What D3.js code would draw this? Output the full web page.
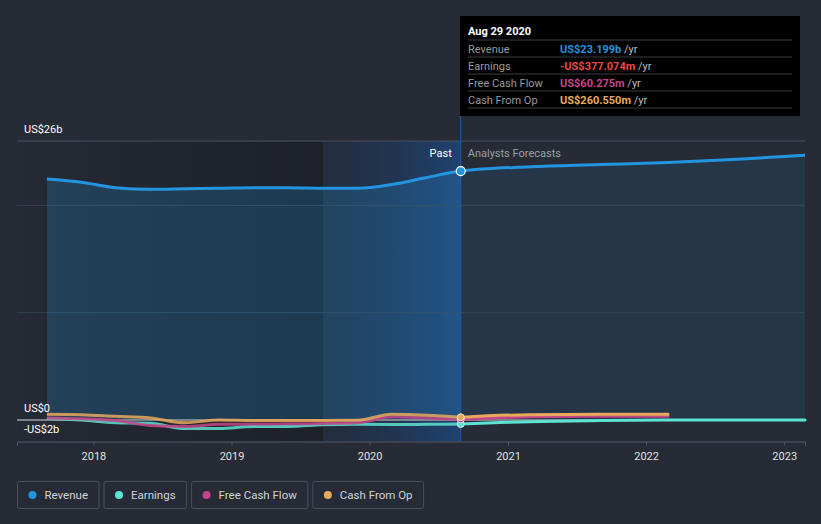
<!DOCTYPE html>
<html>
<head>
<meta charset="utf-8">
<script src="https://cdn.jsdelivr.net/npm/d3@7"></script>
<style>
  body { margin: 0; background: #262b36; }
  svg { display: block; font-family: Roboto, "Open Sans", sans-serif; }
</style>
</head>
<body>
<script>
var pastDates = ["2017-08-31", "2017-11-30", "2018-02-28", "2018-05-31", "2018-08-31", "2018-11-30",
    "2019-02-28", "2019-05-31", "2019-08-31", "2019-11-30", "2020-02-29", "2020-05-31", "2020-08-29"];
var revenuePast = [22.45, 22.15, 21.65, 21.5, 21.55, 21.6, 21.65, 21.65, 21.6, 21.6, 21.95, 22.6, 23.2];
var earningsPast = [0.15, 0.0, -0.25, -0.3, -0.8, -0.8, -0.6, -0.6, -0.45, -0.4, -0.42, -0.4, -0.377];
var fcfPast = [0.2, 0.12, -0.05, -0.5, -0.6, -0.4, -0.38, -0.35, -0.32, -0.25, 0.3, 0.2, 0.06];
var cfoPast = [0.55, 0.5, 0.35, 0.2, -0.25, 0.0, -0.05, -0.05, -0.05, -0.02, 0.55, 0.45, 0.26];

var fcDates = ["2020-08-29", "2021-02-28", "2021-08-31", "2022-02-28", "2022-08-31", "2023-02-25"];
var revenueFc = [23.2, 23.6, 23.8, 24.0, 24.3, 24.67];
var earningsFc = [-0.377, -0.15, -0.05, 0.0, 0.0, 0.0];
var fcfFc = [0.06, 0.3, 0.35, 0.35];
var cfoFc = [0.26, 0.5, 0.53, 0.53];

var yTicks = [26, 0, -2];
var yTickLabels = ["US$26b", "US$0", "-US$2b"];
var gridValues = [20, 10];
var xTickYears = [2018, 2019, 2020, 2021, 2022, 2023];

var legendNames = ["Revenue", "Earnings", "Free Cash Flow", "Cash From Op"];
var colors = ["#2394df", "#5de3d1", "#c4448a", "#e8a95c"];

var tipDate = "Aug 29 2020";
var tipValues = ["US$23.199b", "-US$377.074m", "US$60.275m", "US$260.550m"];
var tipColors = ["#2394df", "#e84a4a", "#c4448a", "#e8a95c"];

var width = 821, height = 524;
var parse = d3.timeParse("%Y-%m-%d");

var svg = d3.select("body").append("svg")
    .attr("width", width)
    .attr("height", height);

var x = d3.scaleTime()
    .domain([new Date(2017, 5, 13), new Date(2023, 1, 25)])
    .range([17, 805]);
var y = d3.scaleLinear()
    .domain([-2, 26])
    .range([441.5, 141]);

var nowDate = parse("2020-08-29");
var xNow = x(nowDate);
var xHi = x(parse("2019-08-31"));

var defs = svg.append("defs");
var g1 = defs.append("linearGradient").attr("id", "hi").attr("x1", 0).attr("x2", 1);
g1.append("stop").attr("offset", 0).attr("stop-color", "#17355c").attr("stop-opacity", 0.2);
g1.append("stop").attr("offset", 1).attr("stop-color", "#1a55a0").attr("stop-opacity", 0.55);
var g2 = defs.append("linearGradient").attr("id", "dark").attr("x1", 0).attr("x2", 1);
g2.append("stop").attr("offset", 0).attr("stop-color", "#000").attr("stop-opacity", 0.03);
g2.append("stop").attr("offset", 1).attr("stop-color", "#000").attr("stop-opacity", 0.25);

// past shading
svg.append("rect")
    .attr("x", 17).attr("y", y(26))
    .attr("width", xHi - 17).attr("height", y(-2) - y(26))
    .attr("fill", "url(#dark)");
svg.append("rect")
    .attr("x", xHi).attr("y", y(26))
    .attr("width", xNow - xHi).attr("height", y(-2) - y(26))
    .attr("fill", "url(#hi)");

// grid
svg.append("line")
    .attr("x1", 17).attr("x2", 805)
    .attr("y1", y(26)).attr("y2", y(26))
    .attr("stroke", "#4a505c").attr("stroke-width", 1);
svg.selectAll(".grid").data(gridValues).enter().append("line")
    .attr("x1", 17).attr("x2", 805)
    .attr("y1", function (d) { return y(d); }).attr("y2", function (d) { return y(d); })
    .attr("stroke", "#34404f").attr("stroke-width", 1);

function toPts(dates, vals) {
    return vals.map(function (v, i) { return { d: parse(dates[i]), v: v }; });
}

var line = d3.line()
    .x(function (p) { return x(p.d); })
    .y(function (p) { return y(p.v); })
    .curve(d3.curveMonotoneX);
var area = d3.area()
    .x(function (p) { return x(p.d); })
    .y0(y(0))
    .y1(function (p) { return y(p.v); })
    .curve(d3.curveMonotoneX);

var revAll = toPts(pastDates, revenuePast).concat(toPts(fcDates, revenueFc).slice(1));
svg.append("path")
    .attr("d", area(toPts(pastDates, revenuePast)))
    .attr("fill", "#2394df").attr("fill-opacity", 0.22);
svg.append("path")
    .attr("d", area(toPts(fcDates, revenueFc)))
    .attr("fill", "#2a5f8f").attr("fill-opacity", 0.22);

// zero line
svg.append("line")
    .attr("x1", 17).attr("x2", 805)
    .attr("y1", y(0)).attr("y2", y(0))
    .attr("stroke", "#9a9ea6").attr("stroke-width", 1.5);

// now line
svg.append("line")
    .attr("x1", xNow).attr("x2", xNow)
    .attr("y1", 116).attr("y2", y(-2))
    .attr("stroke", "#1f5fa8").attr("stroke-width", 1);

var small = [
    [earningsPast, earningsFc, 1],
    [fcfPast, fcfFc, 2],
    [cfoPast, cfoFc, 3]
];
small.forEach(function (s) {
    svg.append("path")
        .attr("d", line(toPts(pastDates, s[0])))
        .attr("fill", "none").attr("stroke", colors[s[2]])
        .attr("stroke-width", 3).attr("stroke-opacity", 0.85);
    svg.append("path")
        .attr("d", line(toPts(fcDates, s[1])))
        .attr("fill", "none").attr("stroke", colors[s[2]])
        .attr("stroke-width", 3).attr("stroke-linecap", "round");
});

svg.append("path")
    .attr("d", line(revAll))
    .attr("fill", "none").attr("stroke", colors[0]).attr("stroke-width", 3);

// markers at now
var markVals = [earningsPast, fcfPast, cfoPast];
[1, 2, 3].forEach(function (k, i) {
    var vals = markVals[i];
    svg.append("circle")
        .attr("cx", xNow).attr("cy", y(vals[vals.length - 1]))
        .attr("r", 3.5).attr("fill", colors[k])
        .attr("stroke", "#fff").attr("stroke-width", 1).attr("stroke-opacity", 0.7);
});
svg.append("circle")
    .attr("cx", xNow).attr("cy", y(revenuePast[revenuePast.length - 1]))
    .attr("r", 4.5).attr("fill", colors[0])
    .attr("stroke", "#fff").attr("stroke-width", 1.2);

// y labels
svg.selectAll(".ylab").data(yTicks).enter().append("text")
    .attr("x", 24)
    .attr("y", function (d, i) { return i === 2 ? y(d) - 9 : y(d) - 8; })
    .attr("fill", "#ffffff").attr("font-size", 11)
    .text(function (d, i) { return yTickLabels[i]; });

// x axis
var xAxis = d3.axisBottom(x)
    .tickValues(xTickYears.map(function (yr) { return new Date(yr, 0, 1); }))
    .tickFormat(d3.timeFormat("%Y"))
    .tickSize(4).tickPadding(7);
var ax = svg.append("g").attr("transform", "translate(0," + y(-2) + ")").call(xAxis);
ax.select(".domain").attr("stroke", "#555b66");
ax.selectAll(".tick line").attr("stroke", "#555b66");
ax.selectAll(".tick text").attr("fill", "#e0e0e0").attr("font-size", 11)
    .attr("font-family", "Roboto, sans-serif");

// past / forecast labels
svg.append("text").attr("x", xNow - 9).attr("y", 157)
    .attr("text-anchor", "end").attr("fill", "#ffffff").attr("font-size", 11).text("Past");
svg.append("text").attr("x", xNow + 7).attr("y", 157)
    .attr("fill", "#9a9ea6").attr("font-size", 11).text("Analysts Forecasts");

// tooltip
var tip = svg.append("g").attr("transform", "translate(460,16)");
tip.append("rect").attr("width", 340).attr("height", 100).attr("fill", "#000");
tip.append("text").attr("x", 8).attr("y", 19).attr("fill", "#fff")
    .attr("font-size", 11).attr("font-weight", "bold").text(tipDate);
legendNames.forEach(function (name, i) {
    var ty = 24 + i * 17;
    tip.append("line").attr("x1", 8).attr("x2", 332).attr("y1", ty).attr("y2", ty)
        .attr("stroke", "#3a3d44");
    tip.append("text").attr("x", 8).attr("y", ty + 12.5).attr("fill", "#9a9a9a")
        .attr("font-size", 11).text(name);
    var t = tip.append("text").attr("x", 100).attr("y", ty + 12.5).attr("font-size", 11);
    t.append("tspan").attr("fill", tipColors[i]).attr("font-weight", "bold").text(tipValues[i]);
    t.append("tspan").attr("fill", "#bdbdbd").text(" /yr");
});
tip.append("line").attr("x1", 8).attr("x2", 332).attr("y1", 92).attr("y2", 92)
    .attr("stroke", "#3a3d44");

// legend
var lx = 17;
legendNames.forEach(function (name, i) {
    var lg = svg.append("g").attr("transform", "translate(" + lx + ",481)");
    var rect = lg.append("rect").attr("x", 0.5).attr("y", 0.5).attr("height", 27)
        .attr("rx", 2).attr("fill", "none").attr("stroke", "#4a505b");
    lg.append("circle").attr("cx", 15.5).attr("cy", 14).attr("r", 4).attr("fill", colors[i]);
    var txt = lg.append("text").attr("x", 27.5).attr("y", 18).attr("fill", "#d0d3d8")
        .attr("font-size", 11.5).text(name);
    var w = txt.node().getComputedTextLength() + 38;
    rect.attr("width", w);
    lx += w + 5;
});
</script>
</body>
</html>
